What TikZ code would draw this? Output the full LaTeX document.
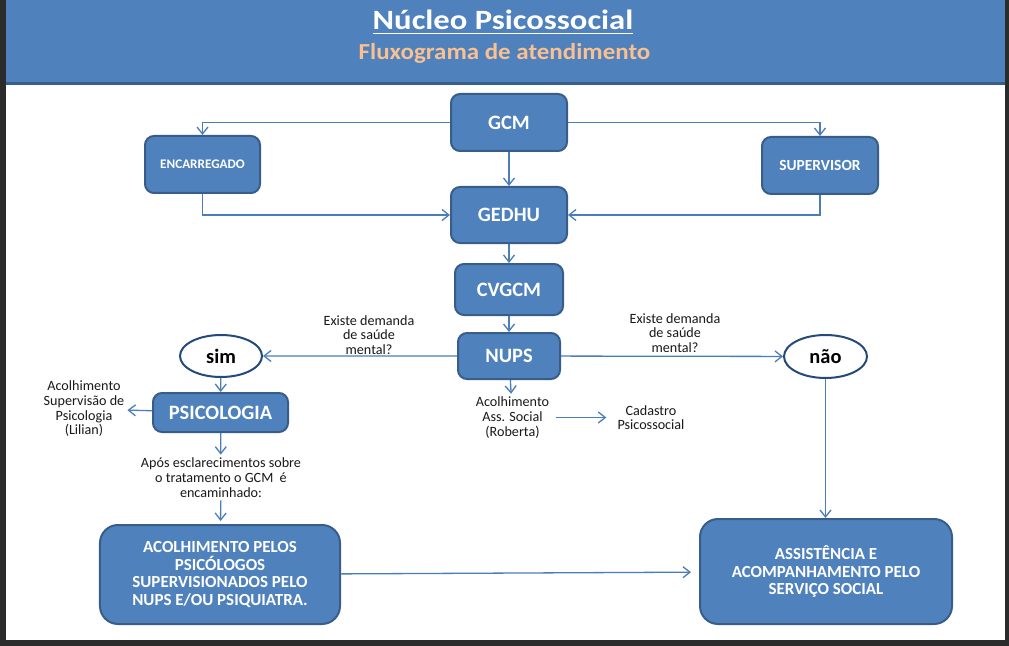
\documentclass[tikz,border=0pt]{standalone}
\usepackage{fontspec}
\setmainfont{Carlito}
\usepackage{tikz}
\usetikzlibrary{positioning, calc, arrows.meta, shapes.geometric}
\definecolor{BoxFill}{HTML}{4F81BD}
\definecolor{BoxEdge}{HTML}{385D8A}
\definecolor{LinkColor}{HTML}{4A7EBB}
\definecolor{RingEdge}{HTML}{244A7C}
\definecolor{SubTitle}{HTML}{FAC090}
\definecolor{FrameDark}{HTML}{2B2B2B}
\tikzset{
    flowbox/.style={
        shape=rectangle,
        rounded corners=9bp,
        draw=BoxEdge,
        line width=2bp,
        fill=BoxFill,
        text=white,
        align=center,
        inner sep=0pt,
        font=\bfseries\fontsize{20.5}{22}\selectfont
    },
    bigbox/.style={
        flowbox,
        rounded corners=18bp,
        font=\bfseries\fontsize{17}{18}\selectfont
    },
    answer/.style={
        shape=ellipse,
        draw=RingEdge,
        line width=2bp,
        fill=white,
        inner sep=0pt,
        font=\bfseries\fontsize{20.5}{22}\selectfont
    },
    note/.style={
        align=center,
        text=black!90,
        inner sep=3bp,
        font=\fontsize{14.2}{14.7}\selectfont
    },
    link/.style={
        draw=LinkColor,
        line width=1.3bp,
        -{Straight Barb[length=7bp, width=11bp]}
    }
}

\begin{document}
\begin{tikzpicture}[x=1bp, y=-1bp]

% Frame
\fill[FrameDark] (0,0) rectangle (1009,646);
\fill[white] (6,0) rectangle (1005,640);
\useasboundingbox (0,0) rectangle (1009,646);

% Title
\fill[BoxFill] (6,0) rectangle (1005,83);
\draw[BoxEdge, line width=3bp] (6,84) -- (1005,84);
\node[font=\bfseries\fontsize{28}{30}\selectfont\addfontfeature{FakeStretch=1.17}, text=white, anchor=base, inner sep=0pt] (n_title) at (503,29.5) {Núcleo Psicossocial};
\draw[white, line width=1.8bp] ([yshift=-4bp]n_title.base west) -- ([yshift=-4bp]n_title.base east);
\node[font=\bfseries\fontsize{23}{25}\selectfont\addfontfeature{FakeStretch=1.09}, text=SubTitle, anchor=base, inner sep=0pt] (n_subtitle) at (504.5,59.3) {Fluxograma de atendimento};

% Top
\node[flowbox, minimum width=116bp, minimum height=57bp] (n_gcm) at (509,122.5) {GCM};
\node[flowbox, minimum width=115bp, minimum height=57bp, font=\bfseries\fontsize{13.2}{15}\selectfont] (n_enc) at (202.5,164.5) {ENCARREGADO};
\node[flowbox, minimum width=116bp, minimum height=57bp, font=\bfseries\fontsize{15.5}{17}\selectfont] (n_sup) at (820,165.5) {SUPERVISOR};

% Chain
\node[flowbox, minimum width=116bp, minimum height=56bp, below=34bp of n_gcm] (n_gedhu) {GEDHU};
\node[flowbox, minimum width=108bp, minimum height=51bp, below=19bp of n_gedhu] (n_cvgcm) {CVGCM};
\node[flowbox, minimum width=102bp, minimum height=46bp, below=16bp of n_cvgcm] (n_nups) {NUPS};

% Answers
\node[answer, minimum width=82bp, minimum height=42bp] (n_sim) at (221,356) {sim};
\node[answer, minimum width=83bp, minimum height=43bp] (n_nao) at (825.5,356.5) {não};

% Notes
\node[note] (t_left) at (369,335) {Existe demanda\\de saúde\\mental?};
\node[note] (t_right) at (675,333) {Existe demanda\\de saúde\\mental?};
\node[note] (t_social) at (512.5,417.5) {Acolhimento\\Ass. Social\\(Roberta)};
\node[note] (t_cad) at (651,417.5) {Cadastro\\Psicossocial};
\node[note] (t_lilian) at (84,409) {Acolhimento\\Supervisão de\\Psicologia\\(Lilian)};
\node[note] (t_apos) at (221,477.5) {Após esclarecimentos sobre\\o tratamento o GCM~~é\\encaminhado:};

% Psicologia
\node[flowbox, minimum width=135bp, minimum height=39bp] (n_psico) at (220.5,412.5) {PSICOLOGIA};

% Bottom
\node[bigbox, minimum width=240bp, minimum height=99bp] (n_acolh) at (220,574.5) {ACOLHIMENTO PELOS\\PSICÓLOGOS\\SUPERVISIONADOS PELO\\NUPS E/OU PSIQUIATRA.};
\node[bigbox, minimum width=252bp, minimum height=105bp] (n_assist) at (826,571.5) {ASSISTÊNCIA E\\ACOMPANHAMENTO PELO\\SERVIÇO SOCIAL};

% Links
\draw[link] (n_gcm.west) -| (n_enc.north);
\draw[link] (n_gcm.east) -| (n_sup.north);
\draw[link] (n_gcm) -- (n_gedhu);
\draw[link] (n_enc.south) |- (n_gedhu.west);
\draw[link] (n_sup.south) |- (n_gedhu.east);
\draw[link] (n_gedhu) -- (n_cvgcm);
\draw[link] (n_cvgcm) -- (n_nups);
\draw[link] (n_nups) -- (n_sim);
\draw[link] (n_nups) -- (n_nao);
\draw[link] (n_nups) -- (t_social);
\draw[link, shorten <=4bp, shorten >=8bp] (t_social.east) -- (t_cad.west |- t_social.east);
\draw[link] (n_sim) -- (n_psico);
\draw[link] (n_psico) -- (t_lilian);
\draw[link] (n_psico) -- (t_apos);
\draw[link, shorten >=3bp] (t_apos) -- (n_acolh);
\draw[link, shorten >=8bp] (n_acolh) -- (n_assist);
\draw[link] (n_nao.south) -- (n_nao.south |- n_assist.north);

\end{tikzpicture}
\end{document}
